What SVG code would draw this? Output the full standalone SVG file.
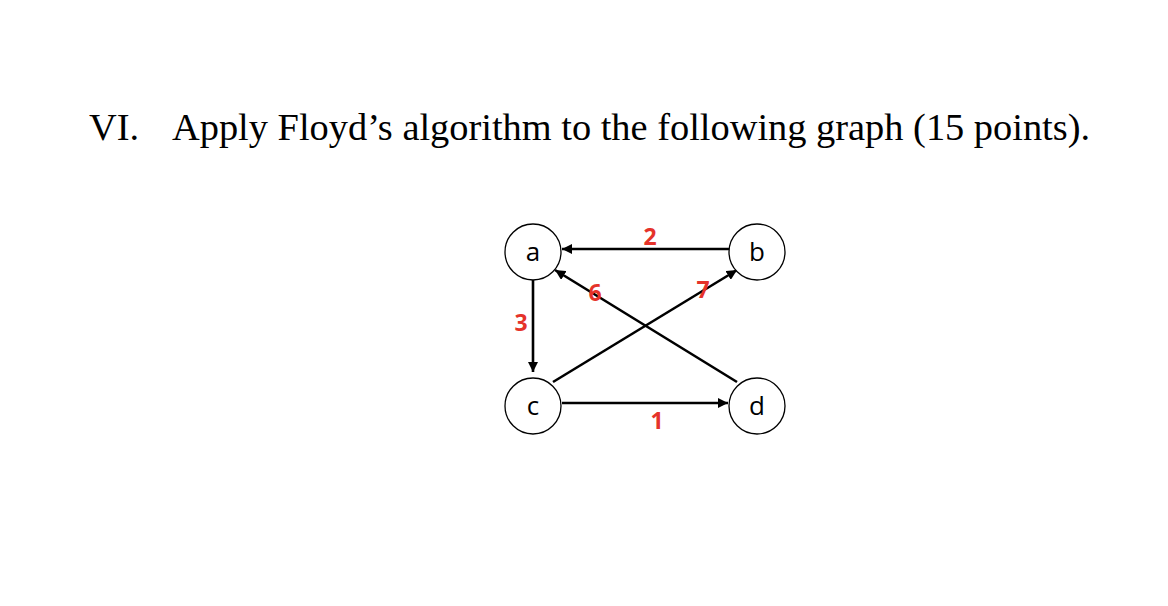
<svg xmlns="http://www.w3.org/2000/svg" width="1168" height="606" viewBox="0 0 1168 606">
<style>
.title{font-family:"Liberation Serif",serif;font-size:38.4px;fill:#000}
.node circle{fill:#fff;stroke:#000;stroke-width:1.3}
.node text{font-family:"Open Sans","Liberation Sans",sans-serif;font-size:26px;fill:#000;text-anchor:middle}
.edge{stroke:#000;stroke-width:2.6;fill:none;marker-end:url(#ah)}
.w{font-family:"Open Sans","Liberation Sans",sans-serif;font-weight:bold;font-size:23px;fill:#e5332a;text-anchor:middle}
</style>
<defs>
<marker id="ah" viewBox="0 0 10 10" refX="10" refY="5" markerWidth="4" markerHeight="4" orient="auto" markerUnits="strokeWidth">
<path d="M0,0 L10,5 L0,10 z" fill="#000"/>
</marker>
</defs>
<rect width="1168" height="606" fill="#fff"/>
<text class="title" x="89" y="140">VI.</text>
<text class="title" x="172" y="140">Apply Floyd’s algorithm to the following graph (15 points).</text>
<g id="connectors">
<line class="edge" x1="729" y1="249" x2="562" y2="249"/>
<line class="edge" x1="533" y1="278" x2="533" y2="372"/>
<line class="edge" x1="562" y1="403" x2="728" y2="403"/>
<line class="edge" x1="737" y1="382" x2="555" y2="270"/>
<line class="edge" x1="553" y1="382" x2="737" y2="270"/>
</g>
<g id="labels">
<text class="w" x="650" y="245">2</text>
<text class="w" x="521" y="331">3</text>
<text class="w" x="595" y="301">6</text>
<text class="w" x="703" y="298">7</text>
<text class="w" x="657" y="429">1</text>
</g>
<g id="node-a" class="node"><circle cx="533" cy="252" r="28"/><text x="533" y="261">a</text></g>
<g id="node-b" class="node"><circle cx="757" cy="252" r="28"/><text x="757" y="261">b</text></g>
<g id="node-c" class="node"><circle cx="533" cy="406" r="28"/><text x="533" y="415">c</text></g>
<g id="node-d" class="node"><circle cx="757" cy="406" r="28"/><text x="757" y="415">d</text></g>
</svg>
